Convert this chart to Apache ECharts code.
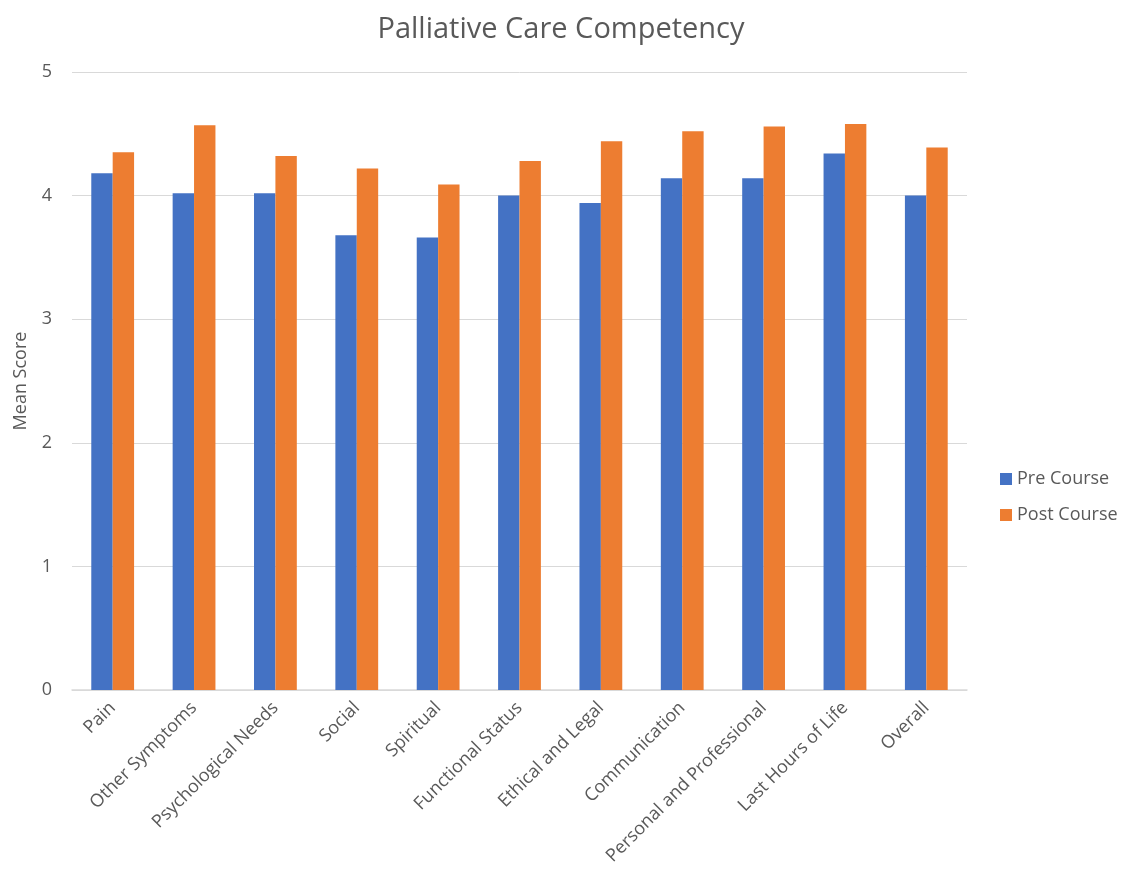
<!DOCTYPE html>
<html>
<head>
<meta charset="utf-8">
<script src="https://cdn.jsdelivr.net/npm/echarts@6/dist/echarts.min.js"></script>
<style>html,body{margin:0;padding:0;background:#fff;}#c{width:1122px;height:879px;}</style>
</head>
<body>
<div id="c"></div>
<script>
const categories = ["Pain","Other Symptoms","Psychological Needs","Social","Spiritual","Functional Status","Ethical and Legal","Communication","Personal and Professional","Last Hours of Life","Overall"];
const preCourse = [4.18,4.02,4.02,3.68,3.66,4.00,3.94,4.14,4.14,4.34,4.00];
const postCourse = [4.35,4.57,4.32,4.22,4.09,4.28,4.44,4.52,4.56,4.58,4.39];
const yTicks = {min:0,max:5,interval:1};

const chart = echarts.init(document.getElementById('c'));
const font = '"Open Sans", "Noto Sans", sans-serif';
chart.setOption({
  backgroundColor:'#fff',
  animation:false,
  title:{text:'Palliative Care Competency',left:'center',top:10,textStyle:{fontFamily:font,fontSize:29,fontWeight:'normal',color:'#595959'}},
  legend:{orient:'vertical',left:995,top:465,itemWidth:12,itemHeight:12,itemGap:18,icon:'rect',
    textStyle:{fontFamily:font,fontSize:18,color:'#595959'},data:['Pre Course','Post Course']},
  grid:{left:72,right:155,top:72,bottom:189,containLabel:false},
  xAxis:{type:'category',data:categories,
    axisLine:{lineStyle:{color:'#d9d9d9',width:1.5}},axisTick:{show:false},
    axisLabel:{rotate:45,interval:0,fontFamily:font,fontSize:18,color:'#595959',margin:15}},
  yAxis:{type:'value',min:yTicks.min,max:yTicks.max,interval:yTicks.interval,name:'Mean Score',nameLocation:'middle',nameGap:42,
    nameTextStyle:{fontFamily:font,fontSize:18,color:'#595959'},
    axisLine:{show:false},axisTick:{show:false},
    axisLabel:{fontFamily:font,fontSize:18,color:'#595959',margin:20},
    splitLine:{lineStyle:{color:'#d9d9d9',width:1}}},
  series:[
    {name:'Pre Course',type:'bar',data:preCourse,barWidth:21.4,barGap:'0%',itemStyle:{color:'#4472C4'}},
    {name:'Post Course',type:'bar',data:postCourse,barWidth:21.4,barGap:'0%',itemStyle:{color:'#ED7D31'}}
  ]
});
</script>
</body>
</html>
